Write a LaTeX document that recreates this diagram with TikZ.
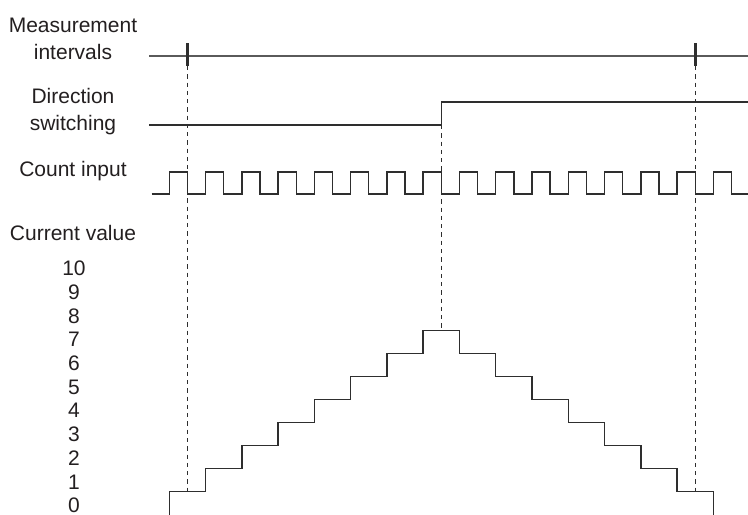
\documentclass[tikz,border=0pt]{standalone}
\usepackage{fontspec}
\setmainfont{Liberation Sans}
\usepackage{xcolor}
\usetikzlibrary{positioning}

\definecolor{inkgray}{HTML}{231F20}
\definecolor{linegray}{HTML}{2E2E2E}
\definecolor{meashue}{HTML}{5A5A5A}

\begin{document}
\begin{tikzpicture}[
  x=0.75pt, y=-0.75pt,
  lbl/.style={align=center, font=\fontsize{15.75}{20.25}\selectfont, text=inkgray, inner sep=0pt},
  num/.style={font=\fontsize{15.75}{18}\selectfont, text=inkgray, inner sep=0pt},
  signal/.style={draw=linegray, line width=1.05pt, line join=miter},
  measline/.style={draw=meashue, line width=1.3pt},
  marker/.style={draw=linegray, line width=2pt},
  guide/.style={draw=linegray, line width=0.65pt, dash pattern=on 3.2pt off 3pt}
]
\useasboundingbox (0,0) rectangle (748,514);
\def\per{36.27}
\def\rz{169.3}
\def\half{18.135}

% row labels
\node[lbl] (meas) at (73,38.5) {Measurement\\intervals};
\node[lbl] (dir) at (73,112) {Direction\\switching};
\node[lbl] (count) at (73,171.5) {Count input};
\node[lbl] (current) at (73,233) {Current value};
\foreach \n in {0,...,10}
  \node[num] (v\n) at (74,{505.5-23.7*\n}) {\n};

% measurement intervals
\coordinate (measL) at (149.3,55.7);
\coordinate (measR) at (748,55.7);
\draw[measline] (measL) -- (measR);
\coordinate (tickAtop) at (187.5,43.3);
\coordinate (tickAbot) at (187.5,66);
\coordinate (tickBtop) at (695.2,43.3);
\coordinate (tickBbot) at (695.2,66);
\draw[marker] (tickAtop) -- (tickAbot);
\draw[marker] (tickBtop) -- (tickBbot);

% direction switching
\coordinate (dirL) at (149.3,125);
\coordinate (dirlow) at (441.3,125);
\coordinate (dirhigh) at (441.3,102);
\coordinate (dirR) at (748,102);
\draw[signal] (dirL) -- (dirlow) -- (dirhigh) -- (dirR);

% count input
\draw[signal] (151.5,194)
  \foreach \k in {0,...,15}{
    -- ({\rz+\k*\per},194) -- ({\rz+\k*\per},172)
    -- ({\rz+\k*\per+\half},172) -- ({\rz+\k*\per+\half},194)}
  -- (748,194);

% current value
\draw[signal] (\rz,514.7)
  \foreach \k in {0,...,7}{
    -- ({\rz+\k*\per},{514.7-23*(\k+1)})
    -- ({\rz+(\k+1)*\per},{514.7-23*(\k+1)})}
  \foreach \k in {8,...,14}{
    -- ({\rz+\k*\per},{514.7-23*(15-\k)})
    -- ({\rz+(\k+1)*\per},{514.7-23*(15-\k)})}
  -- ({\rz+15*\per},514.7);

% guide lines
\coordinate (guideAbot) at (187.5,491.7);
\coordinate (guideMtop) at (441.3,125);
\coordinate (guideMbot) at (441.3,330.7);
\coordinate (guideBbot) at (695.2,491.7);
\draw[guide] (tickAbot) -- (guideAbot);
\draw[guide] (guideMtop) -- (guideMbot);
\draw[guide] (tickBbot) -- (guideBbot);
\end{tikzpicture}
\end{document}
